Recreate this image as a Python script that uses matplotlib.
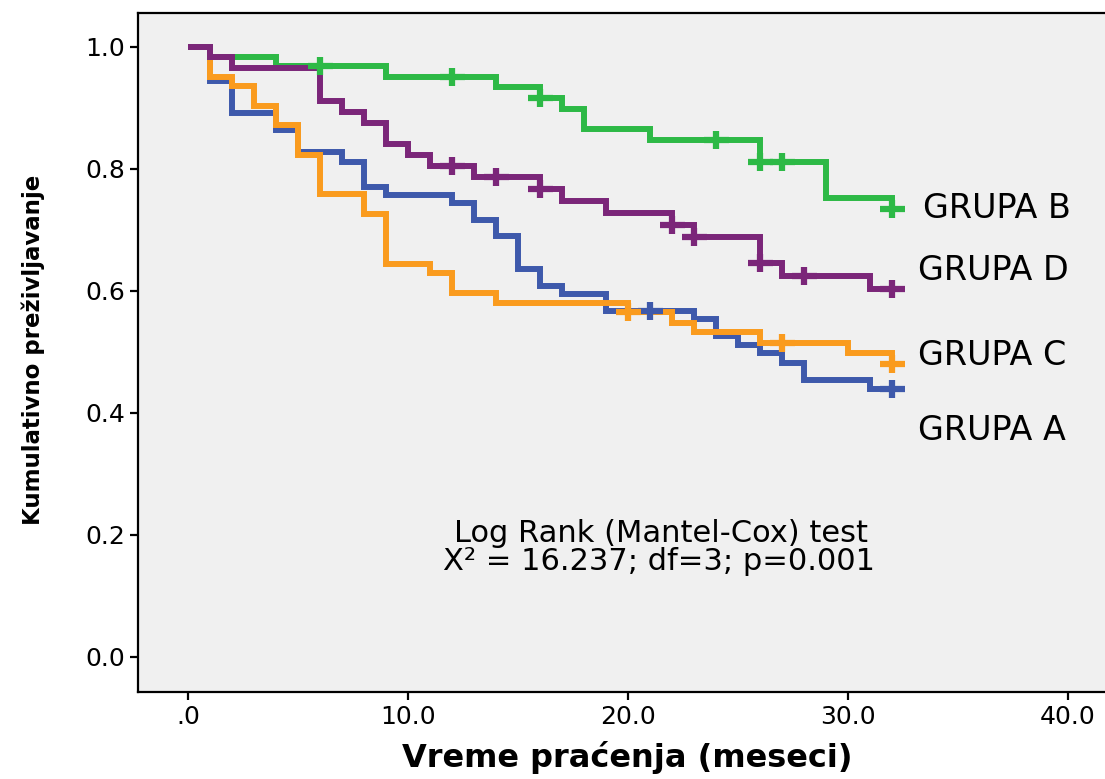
import matplotlib
matplotlib.use("Agg")
import matplotlib.pyplot as plt
from matplotlib.path import Path

# ---- data ----
groups = ["GRUPA A", "GRUPA C", "GRUPA B", "GRUPA D"]

a_times = [0, 1, 2, 4, 5, 7, 8, 9, 12, 13, 14, 15, 16, 17, 19, 23, 24, 25, 26, 27, 28, 31, 32]
a_surv = [1.0, 0.944, 0.892, 0.864, 0.828, 0.812, 0.771, 0.757, 0.744, 0.716, 0.690, 0.636,
          0.608, 0.595, 0.568, 0.554, 0.526, 0.512, 0.498, 0.482, 0.454, 0.440, 0.440]
a_cens_t = [21, 32]
a_cens_s = [0.568, 0.440]

b_times = [0, 1, 4, 9, 14, 16, 17, 18, 21, 26, 29, 32]
b_surv = [1.0, 0.984, 0.969, 0.951, 0.934, 0.917, 0.899, 0.865, 0.848, 0.811, 0.753, 0.734]
b_cens_t = [6, 12, 16, 24, 26, 27, 32]
b_cens_s = [0.969, 0.951, 0.917, 0.848, 0.811, 0.811, 0.734]

c_times = [0, 1, 2, 3, 4, 5, 6, 8, 9, 11, 12, 14, 20, 22, 23, 26, 30, 32]
c_surv = [1.0, 0.951, 0.936, 0.903, 0.872, 0.823, 0.759, 0.726, 0.645, 0.629, 0.596, 0.581,
          0.565, 0.548, 0.532, 0.515, 0.498, 0.480]
c_cens_t = [20, 27, 32]
c_cens_s = [0.565, 0.515, 0.480]

d_times = [0, 1, 2, 6, 7, 8, 9, 10, 11, 13, 16, 17, 19, 22, 23, 26, 27, 31, 32]
d_surv = [1.0, 0.984, 0.966, 0.912, 0.894, 0.876, 0.841, 0.823, 0.805, 0.787, 0.767, 0.748,
          0.728, 0.708, 0.688, 0.646, 0.625, 0.603, 0.603]
d_cens_t = [12, 14, 16, 22, 23, 26, 28, 32]
d_cens_s = [0.805, 0.787, 0.767, 0.708, 0.688, 0.646, 0.625, 0.603]

x_ticks = [0, 10, 20, 30, 40]
x_tick_labels = [".0", "10.0", "20.0", "30.0", "40.0"]
y_ticks = [0.0, 0.2, 0.4, 0.6, 0.8, 1.0]
y_tick_labels = ["0.0", "0.2", "0.4", "0.6", "0.8", "1.0"]

label_names = ["GRUPA B", "GRUPA D", "GRUPA C", "GRUPA A"]
label_y = [0.736, 0.634, 0.495, 0.372]
label_x = [33.4, 33.2, 33.2, 33.2]

stat_line1 = "Log Rank (Mantel-Cox) test"
stat_line2 = "X\u00b2 = 16.237; df=3; p=0.001"

col_a = "#3E59AB"
col_b = "#2DB946"
col_c = "#FA9B1E"
col_d = "#7B2679"

# ---- figure ----
W, H = 1105, 779
fig = plt.figure(figsize=(W / 100, H / 100), dpi=100)
fig.patch.set_facecolor("white")
left, right, top, bottom = 138, 1105, 12.7, 691.7
ax = fig.add_axes([left / W, 1 - bottom / H, (right - left) / W, (bottom - top) / H])
ax.set_facecolor("#F0F0F0")

cross = Path([(-1.4, 0), (1.4, 0), (0, -1), (0, 1)],
             [Path.MOVETO, Path.LINETO, Path.MOVETO, Path.LINETO])

series = [
    (a_times, a_surv, a_cens_t, a_cens_s, col_a, 2),
    (c_times, c_surv, c_cens_t, c_cens_s, col_c, 3),
    (b_times, b_surv, b_cens_t, b_cens_s, col_b, 4),
    (d_times, d_surv, d_cens_t, d_cens_s, col_d, 5),
]
for t, s, ct, cs, col, z in series:
    ax.step(t, s, where="post", color=col, lw=4.3, zorder=z,
            solid_joinstyle="miter", solid_capstyle="butt")
for t, s, ct, cs, col, z in series:
    ax.plot(ct, cs, linestyle="none", marker=cross, markersize=18,
            markeredgewidth=4.5, color=col, zorder=z + 4)

ax.set_xlim((left - 188) / 22, (right - 188) / 22)
ax.set_ylim((657 - bottom) / 610, (657 - top) / 610)

ax.set_xticks(x_ticks)
ax.set_xticklabels(x_tick_labels)
ax.set_yticks(y_ticks)
ax.set_yticklabels(y_tick_labels)
ax.tick_params(axis="both", direction="out", length=5.5, width=1.6,
               labelsize=18, color="black", labelcolor="black", pad=4)
for sp in ["left", "bottom", "top"]:
    ax.spines[sp].set_linewidth(1.6)
    ax.spines[sp].set_color("black")
ax.spines["right"].set_visible(False)

for name, lx, ly in zip(label_names, label_x, label_y):
    ax.text(lx, ly, name, fontsize=24, ha="left", va="center", color="black")

ax.text(21.5, 0.203, stat_line1, fontsize=22, ha="center", va="center", color="black")
ax.text(21.4, 0.157, stat_line2, fontsize=22, ha="center", va="center", color="black")

fig.text(627 / W, 1 - 767 / H, "Vreme pra\u0107enja (meseci)", fontsize=23,
         fontweight="bold", ha="center", va="baseline")
fig.text(33 / W, 1 - 350 / H, "Kumulativno pre\u017eivljavanje", fontsize=16.5,
         fontweight="bold", rotation=90, ha="center", va="center")

fig.savefig("out.png", dpi=100)
